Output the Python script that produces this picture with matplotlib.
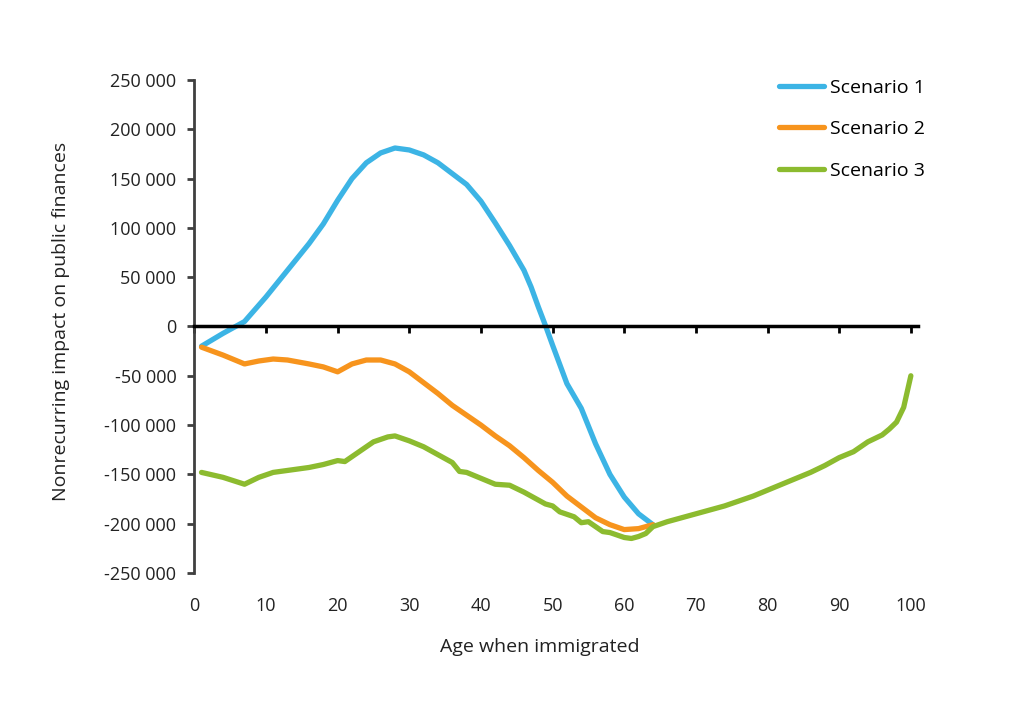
import matplotlib
matplotlib.use("Agg")
import matplotlib.pyplot as plt
from matplotlib.ticker import FuncFormatter

plt.rcParams['font.family'] = ['Open Sans', 'DejaVu Sans']

# scenario 1 (blue)
age_s1 = [1, 4, 7, 10, 13, 16, 18, 20, 22, 24, 26, 28, 30, 32, 34, 36, 38, 40,
          42, 44, 46, 47, 48, 49, 50, 52, 54, 56, 58, 60, 62, 64]
val_s1 = [-20000, -7000, 5000, 30000, 57000, 84000, 104000, 128000, 150000,
          166000, 176000, 181000, 179000, 174000, 166000, 155000, 144000,
          127000, 105000, 82000, 57000, 40000, 20000, 1000, -19000, -58000,
          -83000, -119000, -150000, -173000, -190000, -201000]

# scenario 2 (orange)
age_s2 = [1, 4, 7, 9, 11, 13, 16, 18, 20, 22, 24, 26, 28, 30, 32, 34, 36, 38,
          40, 42, 44, 46, 48, 50, 52, 54, 56, 58, 60, 62, 64]
val_s2 = [-21000, -29000, -38000, -35000, -33000, -34000, -38000, -41000,
          -46000, -38000, -34000, -34000, -38000, -46000, -57000, -68000,
          -80000, -90000, -100000, -111000, -121000, -133000, -146000,
          -158000, -172000, -183000, -194000, -201000, -206000, -205000,
          -201000]

# scenario 3 (green)
age_s3 = [1, 4, 7, 9, 11, 13, 16, 18, 20, 21, 23, 25, 27, 28, 30, 32, 34, 36,
          37, 38, 40, 42, 44, 46, 48, 49, 50, 51, 53, 54, 55, 57, 58, 60, 61,
          62, 63, 64, 66, 70, 74, 78, 80, 82, 86, 88, 90, 92, 94, 96, 97, 98,
          99, 100]
val_s3 = [-148000, -153000, -160000, -153000, -148000, -146000, -143000,
          -140000, -136000, -137000, -127000, -117000, -112000, -111000,
          -116000, -122000, -130000, -138000, -147000, -148000, -154000,
          -160000, -161000, -168000, -176000, -180000, -182000, -188000,
          -193000, -199000, -198000, -208000, -209000, -214000, -215000,
          -213000, -210000, -203000, -198000, -190000, -182000, -172000,
          -166000, -160000, -148000, -141000, -133000, -127000, -117000,
          -110000, -104000, -97000, -82000, -50000]

labels = ['Scenario 1', 'Scenario 2', 'Scenario 3']
colors = ['#3cb4e5', '#f7941d', '#8cbb2f']

fig = plt.figure(figsize=(10.24, 7.14), dpi=100)
ax = fig.add_axes([0.1898, 0.1975, 0.7067, 0.6905])

for a, v, lab, c in zip([age_s1, age_s2, age_s3], [val_s1, val_s2, val_s3], labels, colors):
    ax.plot(a, v, color=c, lw=3.8, label=lab, solid_capstyle='round')

ax.set_xlim(0, 101)
ax.set_ylim(-250000, 250000)
ax.set_yticks(range(-250000, 250001, 50000))
ax.set_xticks(range(0, 101, 10))
ax.yaxis.set_major_formatter(FuncFormatter(lambda v, p: '{:,}'.format(int(v)).replace(',', ' ')))

ax.spines['top'].set_visible(False)
ax.spines['right'].set_visible(False)
ax.spines['bottom'].set_position(('data', 0))
ax.spines['bottom'].set_linewidth(2.5)
ax.spines['bottom'].set_color('black')
ax.spines['left'].set_linewidth(2)
ax.spines['left'].set_color('#404040')
ax.tick_params(axis='y', direction='out', length=5, width=2, color='#404040',
               labelsize=13, labelcolor='#222222', pad=8)
ax.tick_params(axis='x', direction='out', length=5, width=2, color='black',
               labelbottom=False)

# tick labels along the bottom edge
sec = ax.secondary_xaxis('bottom')
sec.set_xticks(range(0, 101, 10))
sec.spines['bottom'].set_visible(False)
sec.tick_params(length=0, labelsize=13, labelcolor='#222222', pad=17)

ax.set_ylabel('Nonrecurring impact on public finances', fontsize=14, color='#222222')
ax.yaxis.set_label_coords(-0.172, 0.51)
fig.text(0.527, 0.094, 'Age when immigrated', fontsize=14, color='#222222', ha='center', va='center')

ax.legend(loc='upper left', bbox_to_anchor=(0.744, 0.914), bbox_transform=fig.transFigure,
          frameon=False, fontsize=14, handlelength=2.3, handletextpad=0.3,
          labelspacing=1.2)

fig.savefig('out.png', dpi=100)
